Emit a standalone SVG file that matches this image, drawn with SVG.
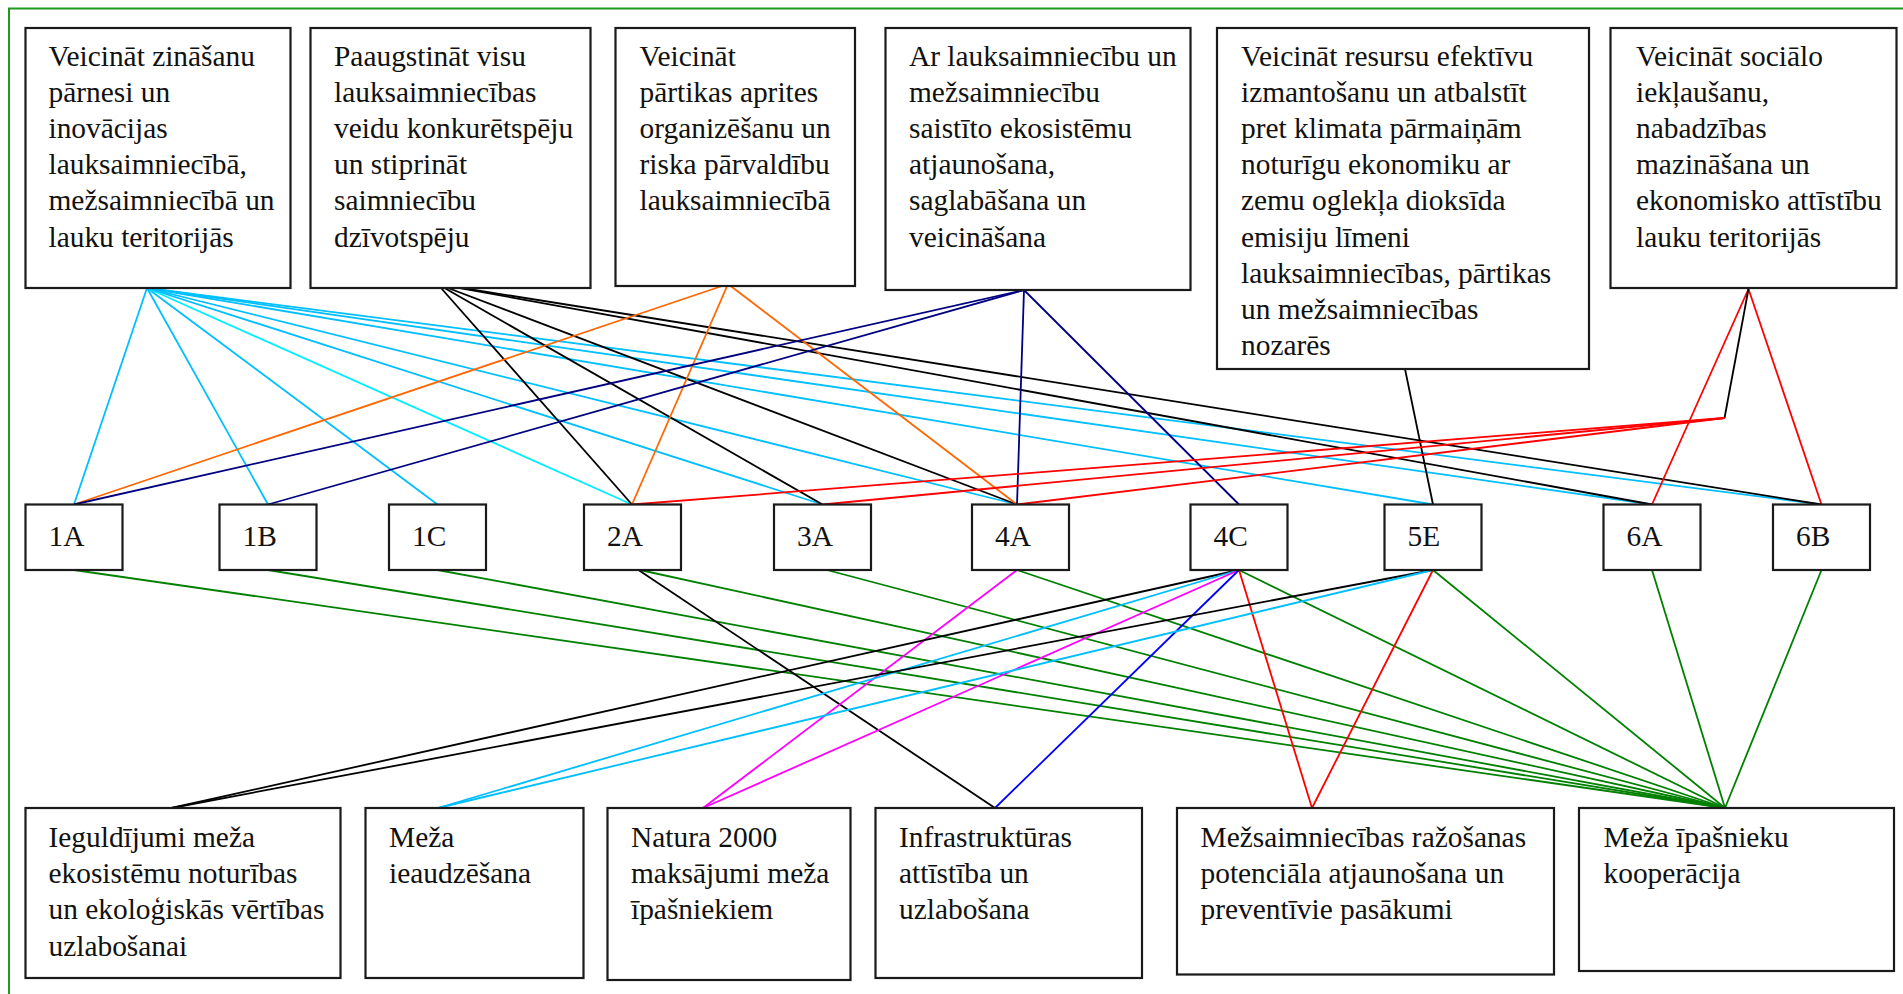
<svg xmlns="http://www.w3.org/2000/svg" width="1903" height="994" viewBox="0 0 1903 994">
<style>
.box{fill:#fff;stroke:#1a1a1a;stroke-width:2.2}
.t{font-family:"Liberation Serif","Times New Roman",serif;font-size:29.4px;fill:#111}
.c line{stroke-width:1.8;fill:none}
.cy{stroke:#00BFFF}.aq{stroke:#00EEFF}.bk{stroke:#000}.or{stroke:#FF6600}.nv{stroke:#000080}.rd{stroke:#FF0000}.gr{stroke:#008000}.mg{stroke:#FF00FF}.bl{stroke:#0000FF}
</style>
<rect x="9" y="8.5" width="1910" height="1000" fill="#fff" stroke="#1f9a1f" stroke-width="2"/>
<g id="connectors" class="c">
<line class="cy" x1="147" y1="288" x2="74" y2="504.5"/>
<line class="cy" x1="147" y1="288" x2="268" y2="504.5"/>
<line class="cy" x1="147" y1="288" x2="437.5" y2="504.5"/>
<line class="aq" x1="147" y1="288" x2="632" y2="504.5"/>
<line class="cy" x1="147" y1="288" x2="822.5" y2="504.5"/>
<line class="cy" x1="147" y1="288" x2="1017" y2="504.5"/>
<line class="cy" x1="147" y1="288" x2="1433" y2="504.5"/>
<line class="cy" x1="147" y1="288" x2="1652" y2="504.5"/>
<line class="cy" x1="147" y1="288" x2="1821.5" y2="504.5"/>
<line class="bk" x1="437.5" y1="284" x2="632" y2="504.5"/>
<line class="bk" x1="437.5" y1="284" x2="822.5" y2="504.5"/>
<line class="bk" x1="437.5" y1="284" x2="1017" y2="504.5"/>
<line class="bk" x1="437.5" y1="284" x2="1652" y2="504.5"/>
<line class="bk" x1="437.5" y1="284" x2="1821.5" y2="504.5"/>
<line class="or" x1="728" y1="284" x2="74" y2="504.5"/>
<line class="or" x1="728" y1="284" x2="632" y2="504.5"/>
<line class="or" x1="728" y1="284" x2="1017" y2="504.5"/>
<line class="nv" x1="1024" y1="290" x2="74" y2="504.5"/>
<line class="nv" x1="1024" y1="290" x2="268" y2="504.5"/>
<line class="nv" x1="1024" y1="290" x2="1017" y2="504.5"/>
<line class="nv" x1="1024" y1="290" x2="1239" y2="504.5"/>
<line class="bk" x1="1405" y1="369" x2="1433" y2="504.5"/>
<line class="rd" x1="1748.5" y1="289" x2="1652" y2="504.5"/>
<line class="rd" x1="1748.5" y1="289" x2="1821.5" y2="504.5"/>
<line class="bk" x1="1748.5" y1="289" x2="1724.5" y2="418"/>
<line class="rd" x1="1724.5" y1="418" x2="632" y2="504.5"/>
<line class="rd" x1="1724.5" y1="418" x2="822.5" y2="504.5"/>
<line class="rd" x1="1724.5" y1="418" x2="1017" y2="504.5"/>
<line class="gr" x1="74" y1="570" x2="1725" y2="808"/>
<line class="gr" x1="268" y1="570" x2="1725" y2="808"/>
<line class="gr" x1="437.5" y1="570" x2="1725" y2="808"/>
<line class="gr" x1="640" y1="570" x2="1725" y2="808"/>
<line class="gr" x1="827" y1="570" x2="1725" y2="808"/>
<line class="gr" x1="1017" y1="570" x2="1725" y2="808"/>
<line class="gr" x1="1239" y1="570" x2="1725" y2="808"/>
<line class="gr" x1="1433" y1="570" x2="1725" y2="808"/>
<line class="gr" x1="1652" y1="570" x2="1725" y2="808"/>
<line class="gr" x1="1821.5" y1="570" x2="1725" y2="808"/>
<line class="bk" x1="634" y1="567" x2="995" y2="808"/>
<line class="mg" x1="1017" y1="570" x2="703" y2="808"/>
<line class="bk" x1="1239" y1="570" x2="171.5" y2="808"/>
<line class="cy" x1="1239" y1="570" x2="438" y2="808"/>
<line class="mg" x1="1239" y1="570" x2="703" y2="808"/>
<line class="bl" x1="1239" y1="570" x2="995" y2="808"/>
<line class="rd" x1="1239" y1="570" x2="1312" y2="808"/>
<line class="bk" x1="1433" y1="570" x2="171.5" y2="808"/>
<line class="cy" x1="1433" y1="570" x2="438" y2="808"/>
<line class="rd" x1="1433" y1="570" x2="1312" y2="808"/>
</g>
<g id="p1"><rect class="box" x="25.5" y="28" width="265" height="260"/>
<text class="t" x="48.5" y="65.5">Veicināt zināšanu</text><text class="t" x="48.5" y="101.7">pārnesi un</text><text class="t" x="48.5" y="137.9">inovācijas</text><text class="t" x="48.5" y="174.1">lauksaimniecībā,</text><text class="t" x="48.5" y="210.3">mežsaimniecībā un</text><text class="t" x="48.5" y="246.5">lauku teritorijās</text></g>
<g id="p2"><rect class="box" x="310.5" y="28" width="280" height="260"/>
<text class="t" x="334" y="65.5">Paaugstināt visu</text><text class="t" x="334" y="101.7">lauksaimniecības</text><text class="t" x="334" y="137.9">veidu konkurētspēju</text><text class="t" x="334" y="174.1">un stiprināt</text><text class="t" x="334" y="210.3">saimniecību</text><text class="t" x="334" y="246.5">dzīvotspēju</text></g>
<g id="p3"><rect class="box" x="615.5" y="28" width="239.5" height="258"/>
<text class="t" x="639.5" y="65.5">Veicināt</text><text class="t" x="639.5" y="101.7">pārtikas aprites</text><text class="t" x="639.5" y="137.9">organizēšanu un</text><text class="t" x="639.5" y="174.1">riska pārvaldību</text><text class="t" x="639.5" y="210.3">lauksaimniecībā</text></g>
<g id="p4"><rect class="box" x="885.5" y="28" width="305" height="262"/>
<text class="t" x="909" y="65.5">Ar lauksaimniecību un</text><text class="t" x="909" y="101.7">mežsaimniecību</text><text class="t" x="909" y="137.9">saistīto ekosistēmu</text><text class="t" x="909" y="174.1">atjaunošana,</text><text class="t" x="909" y="210.3">saglabāšana un</text><text class="t" x="909" y="246.5">veicināšana</text></g>
<g id="p5"><rect class="box" x="1217" y="28" width="372" height="341"/>
<text class="t" x="1241" y="65.5">Veicināt resursu efektīvu</text><text class="t" x="1241" y="101.7">izmantošanu un atbalstīt</text><text class="t" x="1241" y="137.9">pret klimata pārmaiņām</text><text class="t" x="1241" y="174.1">noturīgu ekonomiku ar</text><text class="t" x="1241" y="210.3">zemu oglekļa dioksīda</text><text class="t" x="1241" y="246.5">emisiju līmeni</text><text class="t" x="1241" y="282.7">lauksaimniecības, pārtikas</text><text class="t" x="1241" y="318.9">un mežsaimniecības</text><text class="t" x="1241" y="355.1">nozarēs</text></g>
<g id="p6"><rect class="box" x="1610.5" y="28" width="286" height="260"/>
<text class="t" x="1636" y="65.5">Veicināt sociālo</text><text class="t" x="1636" y="101.7">iekļaušanu,</text><text class="t" x="1636" y="137.9">nabadzības</text><text class="t" x="1636" y="174.1">mazināšana un</text><text class="t" x="1636" y="210.3">ekonomisko attīstību</text><text class="t" x="1636" y="246.5">lauku teritorijās</text></g>
<g id="n1A"><rect class="box" x="25.5" y="504.5" width="97" height="65.5"/><text class="t" x="48.5" y="546">1A</text></g>
<g id="n1B"><rect class="box" x="219.5" y="504.5" width="97" height="65.5"/><text class="t" x="242.5" y="546">1B</text></g>
<g id="n1C"><rect class="box" x="389" y="504.5" width="97" height="65.5"/><text class="t" x="412" y="546">1C</text></g>
<g id="n2A"><rect class="box" x="584" y="504.5" width="97" height="65.5"/><text class="t" x="607" y="546">2A</text></g>
<g id="n3A"><rect class="box" x="774" y="504.5" width="97" height="65.5"/><text class="t" x="797" y="546">3A</text></g>
<g id="n4A"><rect class="box" x="972" y="504.5" width="97" height="65.5"/><text class="t" x="995" y="546">4A</text></g>
<g id="n4C"><rect class="box" x="1190.5" y="504.5" width="97" height="65.5"/><text class="t" x="1213.5" y="546">4C</text></g>
<g id="n5E"><rect class="box" x="1384.5" y="504.5" width="97" height="65.5"/><text class="t" x="1407.5" y="546">5E</text></g>
<g id="n6A"><rect class="box" x="1603.5" y="504.5" width="97" height="65.5"/><text class="t" x="1626.5" y="546">6A</text></g>
<g id="n6B"><rect class="box" x="1773" y="504.5" width="97" height="65.5"/><text class="t" x="1796" y="546">6B</text></g>
<g id="m1"><rect class="box" x="25.5" y="808" width="315" height="170"/>
<text class="t" x="48.5" y="847">Ieguldījumi meža</text><text class="t" x="48.5" y="883.2">ekosistēmu noturības</text><text class="t" x="48.5" y="919.4">un ekoloģiskās vērtības</text><text class="t" x="48.5" y="955.6">uzlabošanai</text></g>
<g id="m2"><rect class="box" x="365.5" y="808" width="218" height="170"/>
<text class="t" x="389" y="847">Meža</text><text class="t" x="389" y="883.2">ieaudzēšana</text></g>
<g id="m3"><rect class="box" x="607.5" y="808" width="243" height="172"/>
<text class="t" x="631" y="847">Natura 2000</text><text class="t" x="631" y="883.2">maksājumi meža</text><text class="t" x="631" y="919.4">īpašniekiem</text></g>
<g id="m4"><rect class="box" x="875.5" y="808" width="266.5" height="170"/>
<text class="t" x="899" y="847">Infrastruktūras</text><text class="t" x="899" y="883.2">attīstība un</text><text class="t" x="899" y="919.4">uzlabošana</text></g>
<g id="m5"><rect class="box" x="1177" y="808" width="377" height="166.5"/>
<text class="t" x="1200.5" y="847">Mežsaimniecības ražošanas</text><text class="t" x="1200.5" y="883.2">potenciāla atjaunošana un</text><text class="t" x="1200.5" y="919.4">preventīvie pasākumi</text></g>
<g id="m6"><rect class="box" x="1579" y="808" width="315" height="163"/>
<text class="t" x="1603.5" y="847">Meža īpašnieku</text><text class="t" x="1603.5" y="883.2">kooperācija</text></g>
</svg>
